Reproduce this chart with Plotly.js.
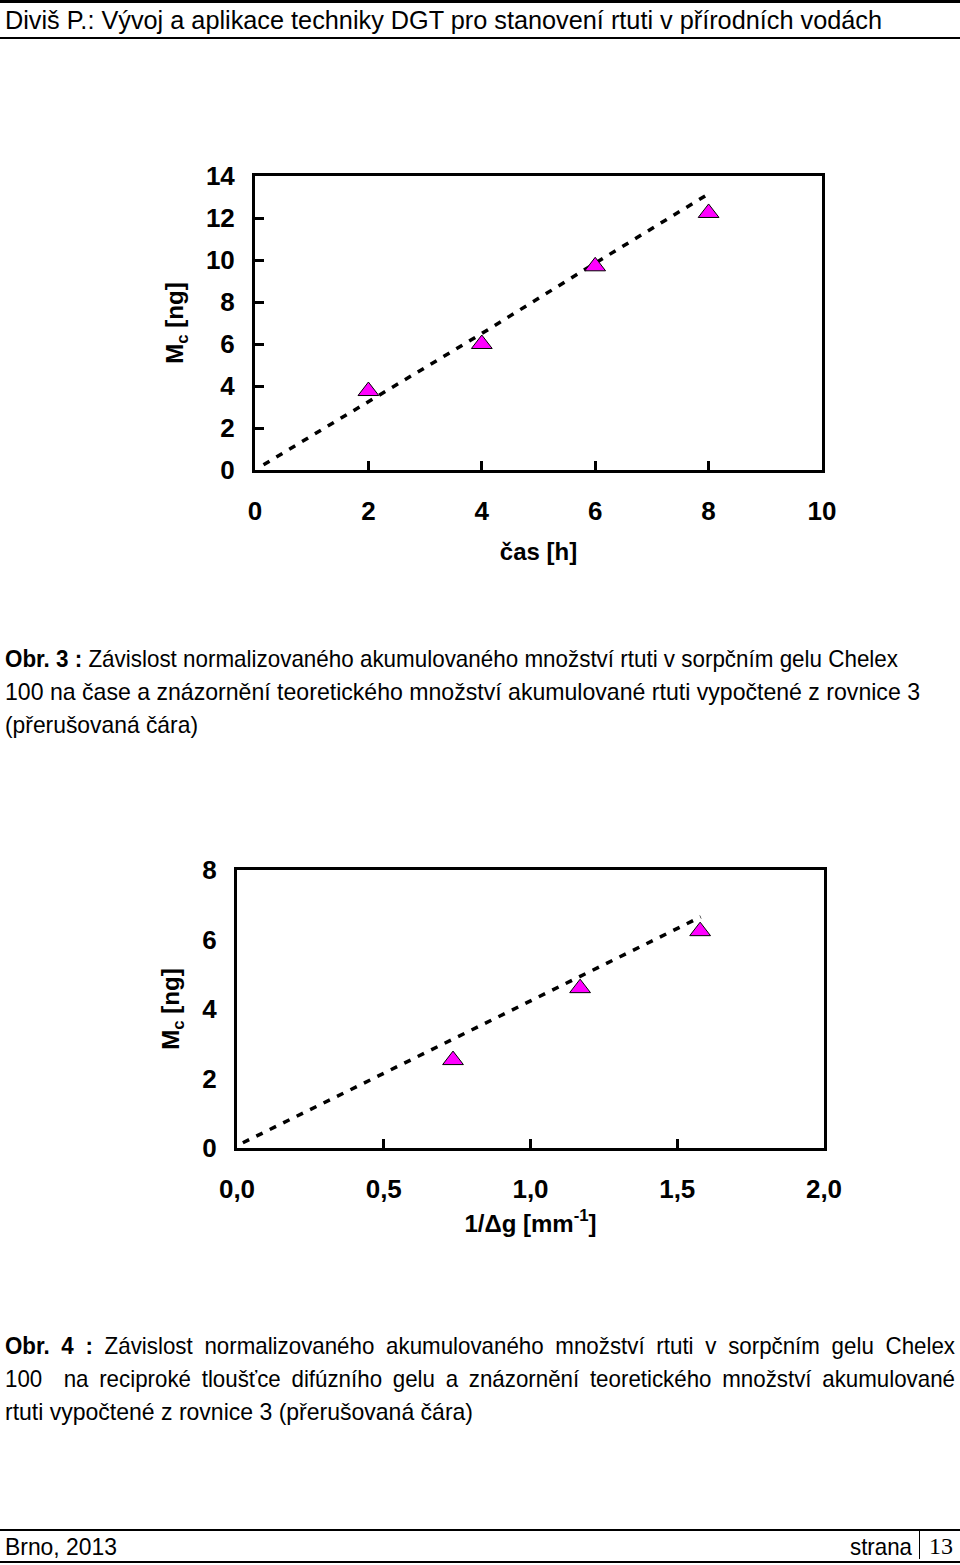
<!DOCTYPE html>
<html>
<head>
<meta charset="utf-8">
<script src="https://cdn.plot.ly/plotly-3.0.1.min.js"></script>
<style>
  html, body { margin: 0; padding: 0; background: #fff; }
  #page { position: relative; width: 960px; height: 1565px; overflow: hidden; }
  #plot { position: absolute; left: 0; top: 0; width: 960px; height: 1565px; }
  .t { position: absolute; white-space: nowrap; color: #000;
       font-family: "Liberation Sans", Arial, sans-serif;
       font-size: 24px; line-height: 33px; z-index: 5; transform-origin: 0 0; }
  .j { text-align: justify; text-align-last: justify; }
  .rule { position: absolute; left: 0; width: 960px; background: #000; z-index: 5; }
</style>
</head>
<body>
<div id="page">
  <div id="plot"></div>

  <div class="rule" style="top:0px;height:3px;"></div>
  <div class="t" data-w="877" style="left:5px;top:4px;font-size:25px;">Diviš P.: Vývoj a aplikace techniky DGT pro stanovení rtuti v přírodních vodách</div>
  <div class="rule" style="top:37px;height:2px;"></div>

  <div class="t" data-w="893" style="left:5px;top:642px;"><b>Obr. 3 :</b> Závislost normalizovaného akumulovaného množství rtuti v sorpčním gelu Chelex</div>
  <div class="t" data-w="915" style="left:5px;top:675px;">100 na čase a znázornění teoretického množství akumulované rtuti vypočtené z rovnice 3</div>
  <div class="t" data-w="193" style="left:5px;top:708px;">(přerušovaná čára)</div>

  <div class="t j" data-j="950" style="left:5px;top:1329px;"><b>Obr. 4 :</b> Závislost normalizovaného akumulovaného množství rtuti v sorpčním gelu Chelex</div>
  <div class="t j" data-j="950" style="left:5px;top:1362px;">100 &nbsp;na reciproké tloušťce difúzního gelu a znázornění teoretického množství akumulované</div>
  <div class="t" data-w="468" style="left:5px;top:1395px;">rtuti vypočtené z rovnice 3 (přerušovaná čára)</div>

  <div class="rule" style="top:1529px;height:2px;"></div>
  <div class="t" data-w="112" style="left:5px;top:1530px;">Brno, 2013</div>
  <div class="t" data-w="62" style="left:850px;top:1530px;">strana</div>
  <div class="rule" style="top:1529px;left:919px;width:1px;height:30px;"></div>
  <div class="t" style="left:929px;top:1530px;font-family:'Liberation Serif','Times New Roman',serif;">13</div>
  <div class="rule" style="top:1561px;height:2px;"></div>
</div>

<script>
// ---- Chart 1 (Obr. 3): accumulated mass vs time ----
const timeH      = [2, 4, 6, 8];
const massTime   = [3.76, 6.0, 9.7, 12.24];
const theoTimeX  = [0.15, 2, 4, 6, 8];
const theoTimeY  = [0.25, 3.25, 6.5, 9.85, 13.15];

// ---- Chart 2 (Obr. 4): accumulated mass vs reciprocal gel thickness ----
const invGel     = [0.736, 1.169, 1.578];
const massGel    = [2.53, 4.60, 6.24];
const theoGelX   = [0.02, 1.58];
const theoGelY   = [0.15, 6.65];

// ---- fit page texts to the reference's (condensed) line widths ----
document.querySelectorAll('.t[data-w]').forEach(el => {
  const w0 = el.getBoundingClientRect().width;
  const k = (+el.dataset.w) / w0;
  el.style.transform = 'scaleX(' + k + ')';
});
document.querySelectorAll('.t[data-j]').forEach(el => {
  const T = +el.dataset.j;
  const w0 = el.getBoundingClientRect().width;
  const k = Math.min(0.93, T / w0 * 0.995);
  el.style.whiteSpace = 'normal';
  el.style.width = (T / k) + 'px';
  el.style.transform = 'scaleX(' + k + ')';
});

const FONT = '"Liberation Sans", Arial, sans-serif';
const H = 1565, W = 960;

const markerStyle = { symbol: 'triangle-up', size: 18, color: '#FF00FF', line: { color: '#000', width: 1 } };
const dashStyle = { color: '#000', width: 3.5, dash: '7px,8px' };

const traces = [
  { x: theoTimeX, y: theoTimeY, mode: 'lines', line: dashStyle, xaxis: 'x', yaxis: 'y', hoverinfo: 'skip' },
  { x: timeH, y: massTime, mode: 'markers', marker: markerStyle, xaxis: 'x', yaxis: 'y' },
  { x: theoGelX, y: theoGelY, mode: 'lines', line: dashStyle, xaxis: 'x2', yaxis: 'y2', hoverinfo: 'skip' },
  { x: invGel, y: massGel, mode: 'markers', marker: markerStyle, xaxis: 'x2', yaxis: 'y2' }
];

const tickFont = { family: FONT, size: 26, color: '#000', weight: 'bold' };
const titleFont = { family: FONT, size: 24, color: '#000', weight: 'bold' };

function ax(extra) {
  return Object.assign({
    showline: true, linewidth: 3, linecolor: '#000', mirror: true,
    showgrid: false, zeroline: false,
    ticks: 'inside', ticklen: 9, tickwidth: 3, tickcolor: '#000',
    tickfont: tickFont, fixedrange: true
  }, extra);
}

const layout = {
  width: W, height: H,
  margin: { l: 0, r: 0, t: 0, b: 0 },
  paper_bgcolor: '#fff', plot_bgcolor: '#fff',
  showlegend: false,
  separators: ', ',
  xaxis: ax({ domain: [255 / W, 822 / W], range: [0, 10], dtick: 2, tick0: 0, anchor: 'y',
              ticklabelstandoff: 16,
              title: { text: 'čas [h]', font: titleFont, standoff: 18 } }),
  yaxis: ax({ domain: [1 - 470 / H, 1 - 176 / H], range: [0, 14], dtick: 2, tick0: 0, anchor: 'x',
              ticklabelstandoff: 12,
              title: { text: 'M<sub>c</sub> [ng]', font: titleFont, standoff: 16 } }),
  xaxis2: ax({ domain: [237 / W, 824 / W], range: [0, 2], dtick: 0.5, tick0: 0, tickformat: '.1f', anchor: 'y2',
               ticklabelstandoff: 16,
               title: { text: '1/Δg [mm<sup>-1</sup>]', font: titleFont, standoff: 12 } }),
  yaxis2: ax({ domain: [1 - 1148 / H, 1 - 870 / H], range: [0, 8], dtick: 2, tick0: 0, anchor: 'x2',
               ticks: '', ticklabelstandoff: 12,
               title: { text: 'M<sub>c</sub> [ng]', font: titleFont, standoff: 16 } })
};

Plotly.newPlot('plot', traces, layout, { displayModeBar: false, staticPlot: true });
</script>
</body>
</html>
